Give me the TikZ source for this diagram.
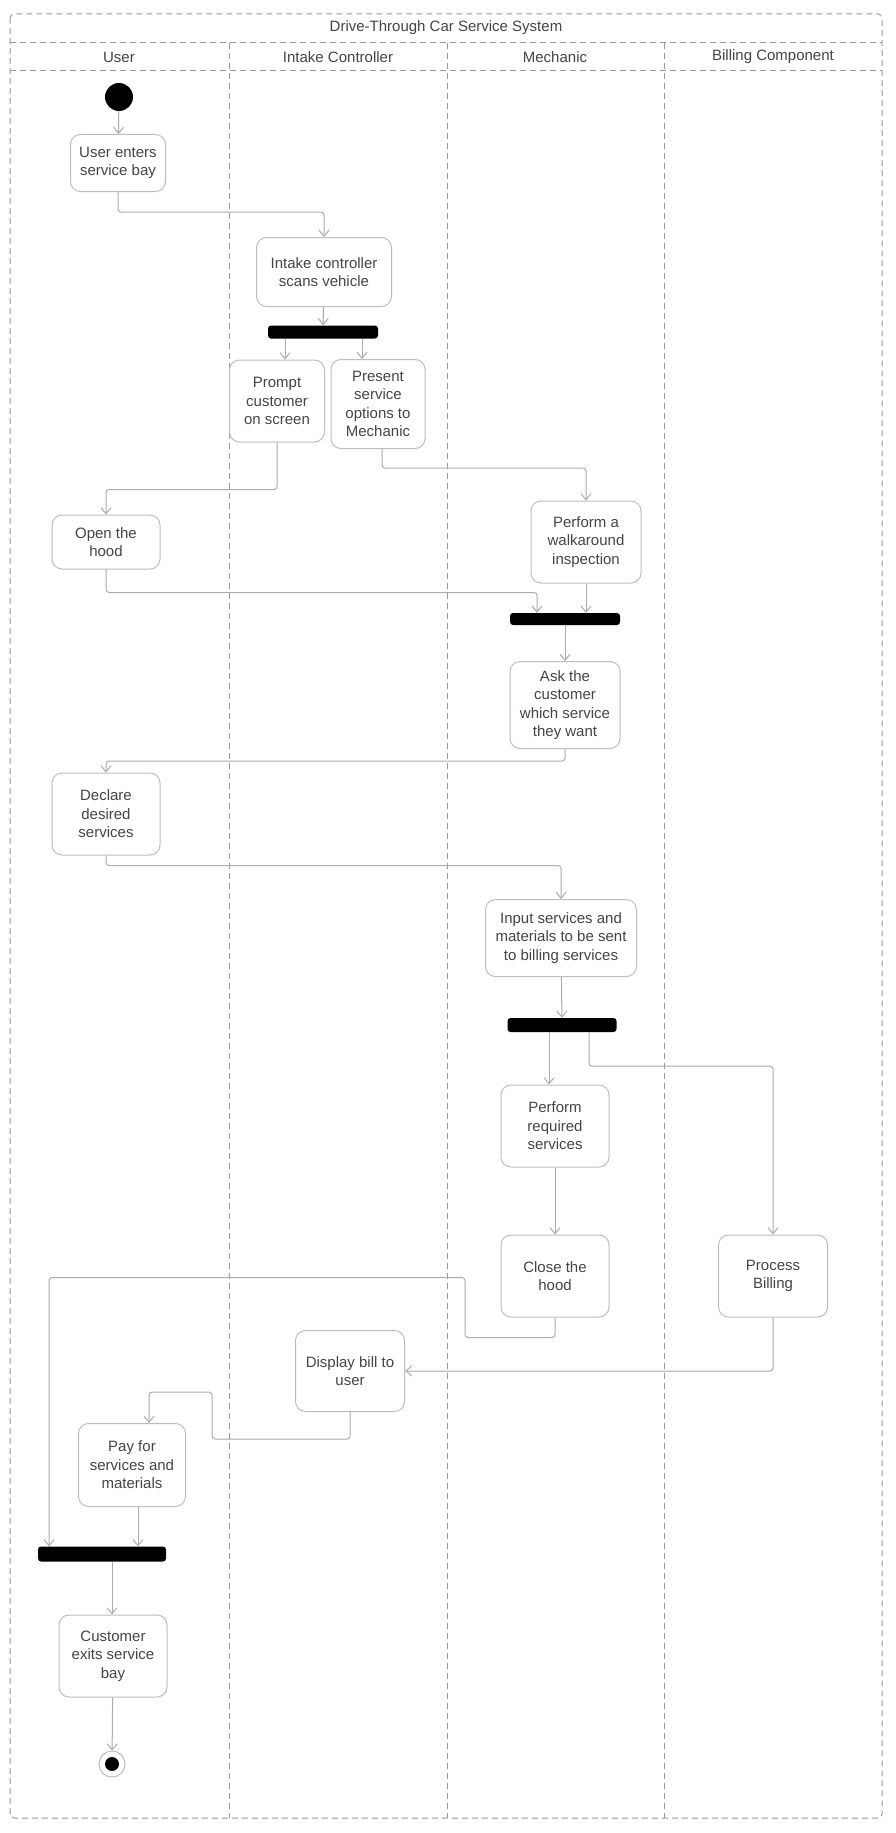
\documentclass[tikz,border=0pt]{standalone}
\usepackage{fontspec}
\setmainfont{Liberation Sans}
\usetikzlibrary{arrows.meta}

\definecolor{lanegray}{HTML}{9A9A9A}
\definecolor{linegray}{HTML}{ABABAB}
\definecolor{boxgray}{HTML}{BDBDBD}
\definecolor{textgray}{HTML}{444444}

\begin{document}
\begin{tikzpicture}[x = 1pt, y = -1pt,
    font = \fontsize{15}{18.5}\selectfont, text = textgray,
    >={Straight Barb[length = 6pt, width = 10pt]},
    lane/.style = {draw = lanegray, dashed, line width = 1pt, dash pattern = on 6pt off 4pt},
    act/.style = {draw = boxgray, line width = 1pt, rounded corners = 10pt, align = center, inner sep = 2pt},
    bar/.style = {fill = black, rounded corners = 3pt, inner sep = 0pt},
    flow/.style = {draw = linegray, line width = 1pt, ->, rounded corners = 3pt}]

    \useasboundingbox (0,0) rectangle (895,1833);

    % swimlanes
    \draw[lane, rounded corners = 4pt] (10,14) rectangle (882,1818);
    \draw[lane] (10,43) -- (882,43);
    \draw[lane] (10,71) -- (882,71);
    \foreach \x in {229,447,664}{
    \draw[lane] (\x,43) -- (\x,1818);
}
    \node (title) at (446,28) {Drive-Through Car Service System};
    \foreach \n/\x/\t in {huser/119/User,hintake/338/Intake Controller,hmech/555/Mechanic,hbill/773/Billing Component}{
    \node (\n) at (\x,57) {\t};
}

    % states
    \node[circle, fill = black, minimum size = 28pt, inner sep = 0pt] (start) at (119,97) {};
    \node[circle, draw = boxgray, line width = 1pt, minimum size = 26pt, inner sep = 0pt] (end) at (112,1764) {};
    \node[circle, fill = black, minimum size = 14pt, inner sep = 0pt] (endin) at (112,1764) {};

    \foreach \n/\x/\y/\w/\h/\t in {
        enter/118/163/95/57/{User enters\\service bay},
        scan/324/272/135/69/{Intake controller\\scans vehicle},
        prompt/277/401/95/82/{Prompt\\customer\\on screen},
        present/378/404/94/89/{Present\\service\\options to\\Mechanic},
        hood/106/542/108/54/{Open the\\hood},
        walk/586/542/110/82/{Perform a\\walkaround\\inspection},
        ask/565/705/110/87/{Ask the\\customer\\which service\\they want},
        declare/106/814/108/82/{Declare\\desired\\services},
        input/561/938/151/77/{Input services and\\materials to be sent\\to billing services},
        perform/555/1126/108/82/{Perform\\required\\services},
        close/555/1276/108/82/{Close the\\hood},
        billing/773/1276/109/82/{Process\\Billing},
        display/350/1371/109/81/{Display bill to\\user},
        pay/132/1465/107/83/{Pay for\\services and\\materials},
        exit/113/1656/108/82/{Customer\\exits service\\bay}}{
    \node[act, minimum width = \w, minimum height = \h] (\n) at (\x,\y) {\t};
}

    \foreach \n/\x/\y/\w/\h in {fork1/323/332/110/13,join1/565/619/110/12,fork2/562/1025/109/14,join2/102/1554/128/15}{
    \node[bar, minimum width = \w, minimum height = \h] (\n) at (\x,\y) {};
}

    % flows
    \draw[flow] (start) -- (enter);
    \draw[flow] (enter.south) -- ++(0,20) -| (scan.north);
    \draw[flow] (scan) -- (fork1);
    \draw[flow] ([xshift = -38pt]fork1.south) -- ([xshift = 8pt]prompt.north);
    \draw[flow] ([xshift = 39pt]fork1.south) -- ([xshift = -16pt]present.north);
    \draw[flow] (prompt.south) -- ++(0,47) -| (hood.north);
    \draw[flow] ([xshift = 4pt]present.south) -- ++(0,19) -| (walk.north);
    \draw[flow] (hood.south) -- ++(0,23) -| ([xshift = -28pt]join1.north);
    \draw[flow] (walk.south) -- (walk.south |- join1.north);
    \draw[flow] (join1) -- (ask);
    \draw[flow] (ask.south) -- ++(0,12) -| (declare.north);
    \draw[flow] (declare.south) -- ++(0,10) -| (input.north);
    \draw[flow] (input) -- (fork2);
    \draw[flow] ([xshift = -13pt]fork2.south) -- ([xshift = -13pt]fork2.south |- perform.north);
    \draw[flow] ([xshift = 27pt]fork2.south) -- ++(0,34) -| (billing.north);
    \draw[flow] (perform) -- (close);
    \draw[flow] (close.south) -- ++(0,20) -- ++(-90,0) -- ++(0,-60) -| ([xshift = -53pt]join2.north);
    \draw[flow] (billing.south) |- (display.east);
    \draw[flow] (display.south) -- ++(0,27) -- ++(-138,0) -- ++(0,-47) -| ([xshift = 17pt]pay.north);
    \draw[flow] ([xshift = 6pt]pay.south) -- ([xshift = 6pt]pay.south |- join2.north);
    \draw[flow] ([xshift = 10pt]join2.south) -- ([xshift = -1pt]exit.north);
    \draw[flow] (exit) -- (end);

\end{tikzpicture}
\end{document}
